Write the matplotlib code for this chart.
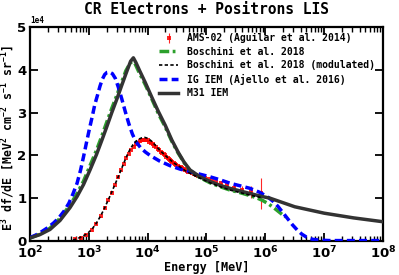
import numpy as np
import matplotlib
matplotlib.use("Agg")
import matplotlib.pyplot as plt

# --- data (energies as log10(E/MeV), values in units of 1e4) ---
ams_logE = [2.76, 2.86, 2.96, 3.05, 3.13, 3.20, 3.27, 3.33, 3.39, 3.45, 3.50, 3.55,
            3.59, 3.64, 3.68, 3.72, 3.76, 3.80, 3.83, 3.87, 3.90, 3.94, 3.97, 4.00,
            4.03, 4.06, 4.09, 4.11, 4.14, 4.17, 4.19, 4.22, 4.24, 4.27, 4.29, 4.31,
            4.34, 4.36, 4.38, 4.40, 4.42, 4.45, 4.47, 4.49, 4.51, 4.54, 4.56, 4.59,
            4.61, 4.64, 4.67, 4.69, 4.72, 4.75, 4.78, 4.82, 4.86, 4.91, 4.98, 5.04,
            5.10, 5.16, 5.24, 5.34, 5.46, 5.60, 5.75, 5.92]
ams_val = [0.04, 0.08, 0.15, 0.25, 0.40, 0.58, 0.78, 0.95, 1.13, 1.32, 1.50, 1.66,
           1.80, 1.93, 2.04, 2.13, 2.20, 2.26, 2.30, 2.33, 2.35, 2.36, 2.36, 2.35,
           2.32, 2.29, 2.26, 2.23, 2.19, 2.15, 2.12, 2.09, 2.06, 2.03, 2.00, 1.97,
           1.94, 1.92, 1.89, 1.87, 1.85, 1.82, 1.80, 1.78, 1.76, 1.74, 1.72, 1.70,
           1.68, 1.66, 1.64, 1.62, 1.61, 1.59, 1.57, 1.55, 1.53, 1.51, 1.47, 1.44,
           1.41, 1.38, 1.35, 1.30, 1.25, 1.20, 1.15, 1.11]
ams_err = [0.01, 0.01, 0.01, 0.01, 0.01, 0.01, 0.01, 0.01, 0.01, 0.01, 0.01, 0.01,
           0.01, 0.01, 0.01, 0.01, 0.01, 0.01, 0.01, 0.01, 0.01, 0.01, 0.01, 0.01,
           0.01, 0.01, 0.01, 0.01, 0.01, 0.01, 0.01, 0.01, 0.01, 0.01, 0.01, 0.01,
           0.01, 0.01, 0.01, 0.01, 0.01, 0.01, 0.01, 0.01, 0.01, 0.01, 0.01, 0.01,
           0.01, 0.01, 0.01, 0.01, 0.01, 0.01, 0.01, 0.02, 0.02, 0.02, 0.02, 0.02,
           0.02, 0.02, 0.03, 0.03, 0.05, 0.09, 0.14, 0.37]

bosch_logE = [2.00, 2.17, 2.34, 2.51, 2.68, 2.80, 2.91, 3.02, 3.13, 3.22, 3.30, 3.39,
              3.48, 3.56, 3.63, 3.70, 3.74, 3.78, 3.84, 3.96, 4.07, 4.18, 4.30, 4.41,
              4.52, 4.62, 4.72, 4.89, 5.06, 5.23, 5.40, 5.57, 5.74, 5.85, 5.95, 6.05,
              6.15, 6.25, 6.34]
bosch_val = [0.07, 0.16, 0.30, 0.53, 0.84, 1.11, 1.40, 1.76, 2.12, 2.45, 2.76, 3.10,
             3.42, 3.72, 3.98, 4.15, 4.20, 4.16, 3.98, 3.65, 3.32, 2.98, 2.66, 2.33,
             2.05, 1.83, 1.64, 1.48, 1.36, 1.27, 1.19, 1.13, 1.06, 1.01, 0.95, 0.87,
             0.77, 0.66, 0.56]

mod_logE = [2.73, 2.85, 2.97, 3.05, 3.12, 3.19, 3.25, 3.30, 3.35, 3.40, 3.45, 3.50,
            3.55, 3.60, 3.65, 3.70, 3.75, 3.80, 3.85, 3.90, 3.95, 4.00, 4.06, 4.13,
            4.20, 4.29, 4.38, 4.46, 4.55, 4.63, 4.72, 4.81, 4.90, 5.06, 5.25, 5.40,
            5.60, 5.74, 5.95]
mod_val = [0.02, 0.08, 0.17, 0.27, 0.40, 0.56, 0.72, 0.87, 1.02, 1.18, 1.34, 1.50,
           1.67, 1.84, 2.00, 2.14, 2.25, 2.33, 2.38, 2.41, 2.42, 2.40, 2.34, 2.24,
           2.13, 2.01, 1.90, 1.81, 1.73, 1.65, 1.58, 1.52, 1.46, 1.36, 1.26, 1.19,
           1.12, 1.07, 1.01]

ig_logE = [2.00, 2.10, 2.20, 2.30, 2.40, 2.49, 2.58, 2.66, 2.73, 2.80, 2.86, 2.91,
           2.96, 3.01, 3.06, 3.10, 3.15, 3.19, 3.23, 3.27, 3.31, 3.35, 3.40, 3.45,
           3.50, 3.56, 3.62, 3.68, 3.74, 3.80, 3.88, 3.96, 4.04, 4.20, 4.38, 4.55,
           4.72, 4.89, 5.06, 5.23, 5.40, 5.57, 5.74, 5.90, 6.03, 6.13, 6.22, 6.30,
           6.38, 6.46, 6.54, 6.62, 6.70, 6.80, 6.92, 7.10, 7.50, 8.00]
ig_val = [0.08, 0.14, 0.22, 0.31, 0.42, 0.54, 0.70, 0.88, 1.10, 1.35, 1.66, 1.97,
          2.30, 2.62, 2.92, 3.18, 3.42, 3.62, 3.78, 3.89, 3.94, 3.95, 3.91, 3.80,
          3.60, 3.32, 3.02, 2.74, 2.50, 2.32, 2.18, 2.08, 2.00, 1.87, 1.76, 1.68,
          1.62, 1.56, 1.50, 1.43, 1.35, 1.29, 1.23, 1.14, 1.04, 0.93, 0.80, 0.66,
          0.52, 0.38, 0.26, 0.16, 0.09, 0.04, 0.02, 0.01, 0.01, 0.01]

m31_logE = [2.00, 2.17, 2.34, 2.51, 2.68, 2.80, 2.91, 3.02, 3.13, 3.22, 3.30, 3.39,
            3.48, 3.56, 3.65, 3.71, 3.757, 3.80, 3.87, 3.96, 4.07, 4.18, 4.30, 4.41,
            4.52, 4.62, 4.72, 4.89, 5.06, 5.23, 5.40, 5.57, 5.74, 5.91, 6.08, 6.50,
            7.00, 7.50, 8.00]
m31_val = [0.07, 0.15, 0.27, 0.48, 0.78, 1.04, 1.32, 1.66, 2.02, 2.35, 2.65, 3.00,
           3.33, 3.64, 3.98, 4.20, 4.28, 4.17, 3.96, 3.70, 3.36, 3.03, 2.70, 2.36,
           2.07, 1.84, 1.66, 1.50, 1.39, 1.30, 1.23, 1.17, 1.11, 1.05, 1.00, 0.80,
           0.65, 0.54, 0.45]


def E(logs):
    return 10 ** np.array(logs)


def F(vals):
    return np.array(vals) * 1e4


plt.rcParams['font.family'] = 'DejaVu Sans Mono'
plt.rcParams['font.weight'] = 'bold'
plt.rcParams['axes.labelweight'] = 'bold'
plt.rcParams['axes.titleweight'] = 'bold'
plt.rcParams['mathtext.default'] = 'regular'

fig = plt.figure(figsize=(3.99, 2.75), dpi=100)
ax = fig.add_axes([30 / 399, 1 - 241 / 275, 353 / 399, 214 / 275])

h_ams = ax.errorbar(E(ams_logE), F(ams_val), yerr=F(ams_err), fmt='s', color='red',
                    ms=3, mew=0, elinewidth=0.8, capsize=1.5, capthick=0.8,
                    alpha=0.85, zorder=2, label='AMS-02 (Aguilar et al. 2014)')
h_bos, = ax.plot(E(bosch_logE), F(bosch_val), color='#2ca02c', lw=2.5,
                 dashes=(2.8, 1.0, 0.8, 1.0), zorder=3, label='Boschini et al. 2018')
h_mod, = ax.plot(E(mod_logE), F(mod_val), color='black', lw=1.2, dashes=(2.0, 1.4),
                 zorder=5, label='Boschini et al. 2018 (modulated)')
h_ig, = ax.plot(E(ig_logE), F(ig_val), color='blue', lw=2.5, dashes=(2.3, 1.2),
                zorder=4, label='IG IEM (Ajello et al. 2016)')
h_m31, = ax.plot(E(m31_logE), F(m31_val), color='#333333', lw=2.5, zorder=4,
                 label='M31 IEM')

ax.set_xscale('log')
ax.set_xlim(1e2, 1e8)
ax.set_ylim(0, 5e4)
ax.ticklabel_format(axis='y', style='sci', scilimits=(0, 0))
ax.yaxis.get_offset_text().set_fontsize(5.5)

ax.tick_params(which='both', direction='in', top=True, right=True)
ax.tick_params(which='major', length=6, width=1.3, labelsize=9.5, pad=2.5)
ax.tick_params(which='minor', length=3.5, width=1.0)
for lab in ax.get_xticklabels() + ax.get_yticklabels():
    lab.set_family('DejaVu Sans')
for sp in ax.spines.values():
    sp.set_linewidth(1.6)

ax.set_title('CR Electrons + Positrons LIS', fontsize=10.5, pad=9)
ax.set_xlabel('Energy [MeV]', fontsize=8.5, labelpad=0)
ax.set_ylabel(r'E$^3$ df/dE [MeV$^2$ cm$^{-2}$ s$^{-1}$ sr$^{-1}$]', fontsize=8.3)
ax.yaxis.set_label_coords(-0.038, 0.48)

ax.legend(handles=[h_ams, h_bos, h_mod, h_ig, h_m31], loc='upper left',
          bbox_to_anchor=(0.365, 0.97), frameon=False, fontsize=7, numpoints=1,
          borderpad=0, borderaxespad=0, labelspacing=0.35, handletextpad=0.9,
          handlelength=2.0)

fig.savefig('out.png', dpi=100)
